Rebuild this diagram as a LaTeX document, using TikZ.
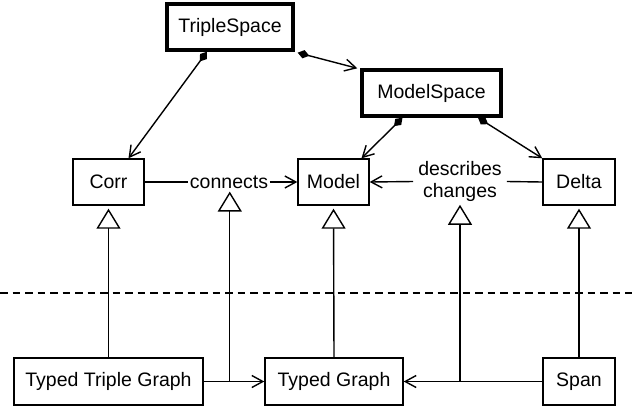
\documentclass[tikz,border=0pt]{standalone}
\usepackage{fontspec}
\setmainfont{Liberation Sans}
\usetikzlibrary{arrows.meta,calc}

\tikzset{
  cls/.style={draw, line width=1.4pt, minimum height=46pt, inner sep=0pt,
    font=\fontsize{19.5}{22}\selectfont},
  bigcls/.style={cls, line width=3.4pt},
  lbl/.style={inner sep=0pt, inner xsep=1.5pt, font=\fontsize{19.5}{22}\selectfont, align=center},
  conn/.style={line width=1.4pt},
  assoc/.style={conn, -{Straight Barb[length=11pt,width=12pt,line width=1.4pt]}},
  compose/.style={conn, {Diamond[length=12pt,width=8.5pt]}-{Straight Barb[length=11pt,width=12pt,line width=1.4pt]}},
  inherit/.style={conn, -{Triangle[open,length=20pt,width=24pt,line width=1.4pt]}, shorten >=3pt},
  layersep/.style={line width=1.6pt, dash pattern=on 7.5pt off 5pt}
}

\begin{document}
\begin{tikzpicture}[x=1pt, y=-1pt]
  \useasboundingbox (0,0) rectangle (632,408);

  % containers
  \node[bigcls, minimum width=126pt] (ts) at (230,27) {TripleSpace};
  \node[bigcls, minimum width=139pt] (ms) at (431.5,93) {ModelSpace};

  % abstract layer
  \node[cls, minimum width=71pt] (corr)  at (108.5,182) {Corr};
  \node[cls, minimum width=71pt] (model) at (333.5,182) {Model};
  \node[cls, minimum width=72pt] (delta) at (579,182) {Delta};
  \node[lbl] (conn) at (229,182) {connects};
  \node[lbl, inner xsep=5pt] (desc) at (460,181.5) {describes\\changes};

  % concrete layer
  \node[cls, minimum width=189pt, minimum height=47pt] (ttg)  at (108.5,381.5) {Typed Triple Graph};
  \node[cls, minimum width=138pt, minimum height=47pt] (tg)   at (334,381.5) {Typed Graph};
  \node[cls, minimum width=72pt,  minimum height=47pt] (span) at (579,381.5) {Span};

  % layer separator
  \coordinate (sepL) at (0,293);
  \coordinate (sepR) at (632,293);
  \draw[layersep] (sepL) -- (sepR);

  % composition
  \draw[compose] ([xshift=-23pt]ts.south) -- ([xshift=20pt]corr.north);
  \draw[compose] ([xshift=3pt,yshift=-1pt]ts.south east) -- ([xshift=-3pt]ms.north west);
  \draw[compose] ([xshift=-29pt]ms.south) -- ([xshift=28pt]model.north);
  \draw[compose] ([xshift=46.5pt]ms.south) -- (delta.north west);

  % associations
  \draw[conn] (corr.east) -- (conn.west);
  \draw[assoc] (conn.east) -- (model.west);
  \draw[conn] (delta.west) -- (desc.east);
  \draw[assoc] (desc.west) -- (model.east);

  \draw[assoc] (ttg.east) -- (tg.west);
  \draw[assoc] (span.west) -- (tg.east);
  \coordinate (j1) at ($(ttg.east)!0.43!(tg.west)$);
  \coordinate (j2) at (desc.south |- span.west);

  % generalisation
  \draw[inherit] (ttg.north) -- (corr.south);
  \draw[inherit] (tg.north) -- (model.south);
  \draw[inherit] (span.north) -- (delta.south);
  \draw[inherit] (j1) -- (j1 |- conn.south);
  \draw[inherit] (j2) -- (desc.south);
\end{tikzpicture}
\end{document}
